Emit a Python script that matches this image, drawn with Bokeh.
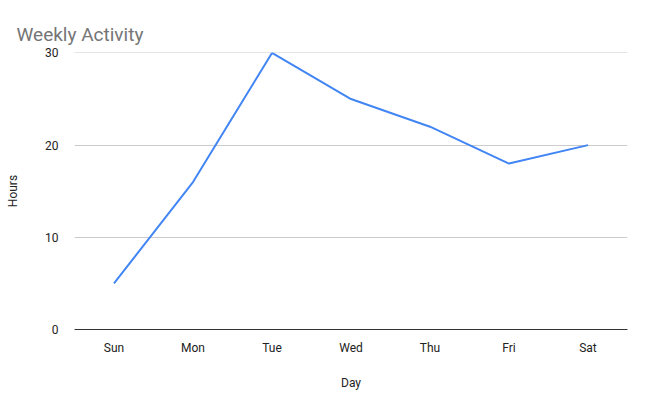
from bokeh.plotting import figure
from bokeh.models import FactorRange, Range1d, SingleIntervalTicker
from bokeh.embed import file_html
from bokeh.resources import INLINE

days = ["Sun", "Mon", "Tue", "Wed", "Thu", "Fri", "Sat"]
hours = [5, 16, 30, 25, 22, 18, 20]

p = figure(width=642, height=392, x_range=FactorRange(*days, range_padding=0),
           y_range=Range1d(0, 30.05), output_backend="svg", toolbar_location=None,
           title="Weekly Activity", min_border_left=74, min_border_right=15,
           min_border_bottom=62, min_border_top=52)
p.line(days, hours, line_color="#4285f4", line_width=2)

p.title.text_font = "Roboto"
p.title.text_font_size = "19px"
p.title.text_font_style = "normal"
p.title.text_color = "#757575"
p.title.offset = -58
p.title.standoff = 14

p.xgrid.grid_line_color = None
p.ygrid.grid_line_color = "#cccccc"
p.yaxis.ticker = SingleIntervalTicker(interval=10)
p.outline_line_color = None
p.yaxis.axis_line_color = None
p.xaxis.axis_line_color = "#333333"
p.axis.major_tick_line_color = None
p.axis.minor_tick_line_color = None
p.axis.major_label_text_font = "Roboto"
p.axis.major_label_text_font_size = "12px"
p.axis.major_label_text_color = "#222222"
p.yaxis.major_label_standoff = 10
p.xaxis.axis_label = "Day"
p.yaxis.axis_label = "Hours"
p.axis.axis_label_text_font = "Roboto"
p.axis.axis_label_text_font_size = "12px"
p.axis.axis_label_text_font_style = "normal"
p.axis.axis_label_text_color = "#222222"
p.xaxis.axis_label_standoff = 18
p.yaxis.axis_label_standoff = 22

open("out.html", "w").write(file_html(p, INLINE))
